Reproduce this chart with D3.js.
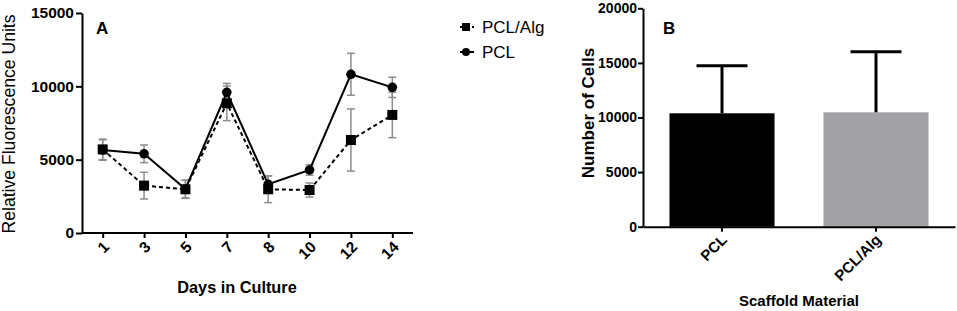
<!DOCTYPE html>
<html><head><meta charset="utf-8">
<script src="https://cdn.jsdelivr.net/npm/d3@7/dist/d3.min.js"></script>
<style>
body{margin:0;background:#fff;}
svg{display:block;font-family:Arial,"Liberation Sans",sans-serif;}
</style></head>
<body><svg id="c" width="957" height="311"></svg>
<script>
// ---- Panel A data ----
const days = ["1","3","5","7","8","10","12","14"];
const pclMean = [5660, 5400, 3000, 9590, 3320, 4300, 10820, 9930];
const pclErr  = [700, 600, 600, 610, 580, 360, 1430, 690];
const algMean = [5700, 3230, 2980, 8840, 2980, 2930, 6340, 8050];
const algErr  = [700, 910, 620, 1180, 910, 480, 2120, 1550];
const yTicksA = [0, 5000, 10000, 15000];
// ---- Panel B data ----
const materials = ["PCL", "PCL/Alg"];
const cellMean = [10385, 10475];
const cellErr  = [4355, 5555];
const yTicksB = [0, 5000, 10000, 15000, 20000];

const svg = d3.select("#c");
const fmt = d3.format("d");

// ===== Panel A =====
const xA = d3.scalePoint().domain(days).range([82, 413]).padding(0.5);
const yA = d3.scaleLinear().domain([0, 15000]).range([233, 13]);
const gA = svg.append("g");

const yAxA = gA.append("g").attr("transform","translate(82,0)")
  .call(d3.axisLeft(yA).tickValues(yTicksA).tickFormat(fmt).tickSize(6).tickSizeOuter(0).tickPadding(2));
const xAxA = gA.append("g").attr("transform","translate(0,233)")
  .call(d3.axisBottom(xA).tickSize(5).tickSizeOuter(0));
[yAxA, xAxA].forEach(a=>{
  a.select(".domain").attr("stroke","#000").attr("stroke-width",2);
  a.selectAll(".tick line").attr("stroke","#000").attr("stroke-width",2);
  a.selectAll("text").attr("fill","#000").attr("font-weight","bold").attr("font-size",15.5)
    .attr("font-family","Arial, 'Liberation Sans', sans-serif");
});
xAxA.select(".domain").attr("d","M82,0H413");
xAxA.selectAll(".tick text")
  .attr("text-anchor","end").attr("dy",null).attr("y",0)
  .attr("transform","translate(7,15) rotate(-45)");

// error bars A
function errBars(g, means, errs, color){
  const eb = g.append("g").attr("stroke",color).attr("stroke-width",1.5).attr("fill","none");
  days.forEach((d,i)=>{
    const x = xA(d), y1 = yA(means[i]+errs[i]), y0 = yA(means[i]-errs[i]);
    eb.append("line").attr("x1",x).attr("x2",x).attr("y1",y1).attr("y2",y0);
    eb.append("line").attr("x1",x-4).attr("x2",x+4).attr("y1",y1).attr("y2",y1);
    eb.append("line").attr("x1",x-4).attr("x2",x+4).attr("y1",y0).attr("y2",y0);
  });
}
errBars(gA, algMean, algErr, "#8c8c8c");
errBars(gA, pclMean, pclErr, "#8c8c8c");

const lineA = d3.line().x((d,i)=>xA(days[i])).y(d=>yA(d));
gA.append("path").datum(algMean).attr("d",lineA).attr("fill","none")
  .attr("stroke","#000").attr("stroke-width",2).attr("stroke-dasharray","4,3");
gA.append("path").datum(pclMean).attr("d",lineA).attr("fill","none")
  .attr("stroke","#000").attr("stroke-width",2);
gA.selectAll(".sq").data(algMean).enter().append("rect")
  .attr("x",(d,i)=>xA(days[i])-5).attr("y",d=>yA(d)-5).attr("width",10).attr("height",10).attr("fill","#000");
gA.selectAll(".ci").data(pclMean).enter().append("circle")
  .attr("cx",(d,i)=>xA(days[i])).attr("cy",d=>yA(d)).attr("r",4.8).attr("fill","#000");

gA.append("text").attr("x",96).attr("y",34).attr("font-weight","bold").attr("font-size",17).text("A");
gA.append("text").attr("transform","translate(15,124) rotate(-90)").attr("text-anchor","middle")
  .attr("font-size",17.6).text("Relative Fluorescence Units");
gA.append("text").attr("x",237).attr("y",293).attr("text-anchor","middle")
  .attr("font-weight","bold").attr("font-size",16.3).text("Days in Culture");

// legend
const lg = svg.append("g");
lg.append("line").attr("x1",460).attr("x2",474).attr("y1",27).attr("y2",27).attr("stroke","#000").attr("stroke-width",2).attr("stroke-dasharray","4,2");
lg.append("rect").attr("x",462).attr("y",23).attr("width",8).attr("height",8).attr("fill","#000");
lg.append("text").attr("x",482).attr("y",33).attr("font-size",17).text("PCL/Alg");
lg.append("line").attr("x1",460).attr("x2",474).attr("y1",52).attr("y2",52).attr("stroke","#000").attr("stroke-width",2);
lg.append("circle").attr("cx",466).attr("cy",52).attr("r",4).attr("fill","#000");
lg.append("text").attr("x",482).attr("y",58).attr("font-size",17).text("PCL");

// ===== Panel B =====
const xB = d3.scaleBand().domain(materials).range([643, 955]).paddingInner(0.318).paddingOuter(0.172);
const yB = d3.scaleLinear().domain([0, 20000]).range([226.7, 8.3]);
const gB = svg.append("g");
const colors = ["#000000", "#a2a1a6"];

gB.selectAll(".bar").data(cellMean).enter().append("rect")
  .attr("x",(d,i)=>xB(materials[i])).attr("y",d=>yB(d))
  .attr("width",xB.bandwidth()).attr("height",d=>yB(0)-yB(d))
  .attr("fill",(d,i)=>colors[i]);
materials.forEach((m,i)=>{
  const x = xB(m)+xB.bandwidth()/2, yt = yB(cellMean[i]+cellErr[i]);
  gB.append("line").attr("x1",x).attr("x2",x).attr("y1",yB(cellMean[i])).attr("y2",yt).attr("stroke","#000").attr("stroke-width",3);
  gB.append("line").attr("x1",x-25.5).attr("x2",x+25.5).attr("y1",yt).attr("y2",yt).attr("stroke","#000").attr("stroke-width",3);
});

const yAxB = gB.append("g").attr("transform","translate(643,0)")
  .call(d3.axisLeft(yB).tickValues(yTicksB).tickFormat(fmt).tickSize(5).tickSizeOuter(0).tickPadding(1));
const xAxB = gB.append("g").attr("transform","translate(0,226.7)")
  .call(d3.axisBottom(xB).tickSize(5).tickSizeOuter(0));
[yAxB, xAxB].forEach(a=>{
  a.select(".domain").attr("stroke","#000").attr("stroke-width",2);
  a.selectAll(".tick line").attr("stroke","#000").attr("stroke-width",2);
  a.selectAll("text").attr("fill","#000").attr("font-weight","bold").attr("font-size",14)
    .attr("font-family","Arial, 'Liberation Sans', sans-serif");
});
xAxB.selectAll(".tick text").attr("font-size",15)
  .attr("text-anchor","end").attr("dy",null).attr("y",0)
  .attr("transform","translate(6,14) rotate(-45)");

gB.append("text").attr("x",663).attr("y",34).attr("font-weight","bold").attr("font-size",17).text("B");
gB.append("text").attr("transform","translate(594,113) rotate(-90)").attr("text-anchor","middle")
  .attr("font-weight","bold").attr("font-size",17).text("Number of Cells");
gB.append("text").attr("x",799).attr("y",306).attr("text-anchor","middle")
  .attr("font-weight","bold").attr("font-size",15).text("Scaffold Material");
</script></body></html>
